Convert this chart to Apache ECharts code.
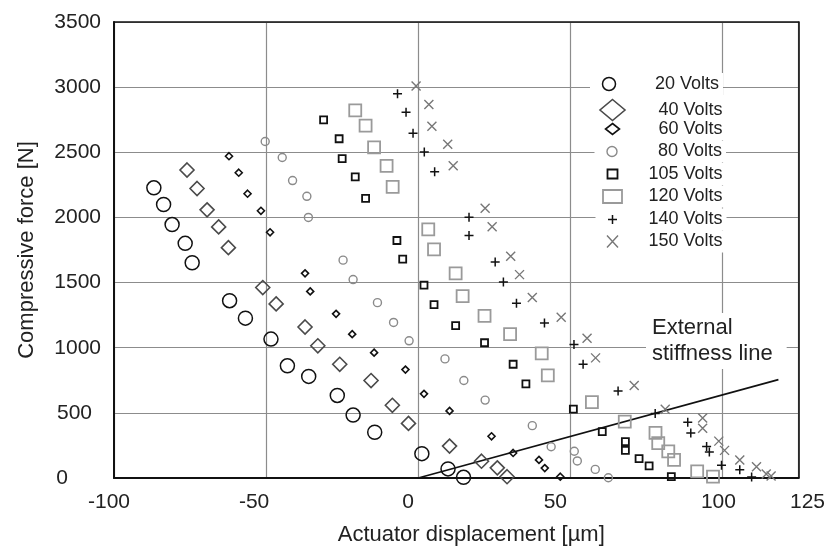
<!DOCTYPE html>
<html>
<head>
<meta charset="utf-8">
<script src="https://cdn.jsdelivr.net/npm/echarts@6/dist/echarts.min.js"></script>
<style>
html,body{margin:0;padding:0;background:#fff;}
#chart{width:828px;height:551px;}
</style>
</head>
<body>
<div id="chart"></div>
<script>
// ---- data ----
const xTicks = [-100, -50, 0, 50, 100, 125];
const yTicks = [0, 500, 1000, 1500, 2000, 2500, 3000, 3500];

const v20x = [-86.9,-83.7,-80.9,-76.6,-74.3,-62.0,-56.8,-48.4,-43.0,-36.0,-26.6,-21.4,-14.3,1.2,9.8,14.9];
const v20y = [2227,2099,1945,1801,1652,1361,1227,1066,861,780,634,483,351,187,70,5];

const v40x = [-76.0,-72.7,-69.4,-65.6,-62.4,-51.1,-46.7,-37.2,-33.0,-25.8,-15.5,-8.5,-3.2,10.3,20.8,26.0,29.2];
const v40y = [2364,2222,2058,1927,1768,1462,1336,1159,1015,873,748,558,419,245,129,78,10];

const v60x = [-62.2,-59.0,-56.1,-51.7,-48.7,-37.2,-35.5,-27.0,-21.7,-14.5,-4.2,1.9,10.3,24.1,31.2,39.7,41.6,46.7];
const v60y = [2470,2343,2182,2051,1886,1571,1432,1260,1104,962,832,646,515,320,192,139,76,10];

const v80x = [-50.3,-44.7,-41.3,-36.6,-36.1,-24.7,-21.4,-13.4,-8.1,-3.0,8.8,15.0,22.0,37.5,43.7,51.3,52.3,58.2,62.5];
const v80y = [2583,2460,2283,2162,2000,1672,1523,1346,1194,1053,914,748,598,402,240,205,131,66,2];

const v105x = [-31.1,-26.0,-25.0,-20.7,-17.3,-7.0,-5.1,1.9,5.2,12.3,21.8,31.2,35.4,51.0,60.5,68.1,68.1,72.6,75.9,83.2];
const v105y = [2748,2604,2452,2311,2146,1823,1680,1480,1331,1169,1038,873,722,528,356,279,212,149,93,10];

const v120x = [-20.7,-17.3,-14.5,-10.4,-8.4,3.3,5.2,12.3,14.6,21.8,30.2,40.6,42.6,57.1,67.9,78.0,78.9,82.2,84.1,91.7,96.9];
const v120y = [2821,2705,2538,2396,2235,1909,1755,1571,1396,1245,1104,957,788,583,433,346,267,205,139,51,10];

const v140x = [-6.8,-4.0,-1.7,2.0,5.4,16.7,16.7,25.3,28.0,32.3,41.5,51.2,54.2,65.7,77.9,88.6,89.6,94.8,95.7,99.7,105.7,109.6];
const v140y = [2949,2808,2646,2502,2351,2002,1861,1657,1505,1341,1189,1025,873,667,495,427,346,242,199,98,63,8];

const v150x = [-0.7,3.5,4.5,9.7,11.5,22.0,24.3,30.4,33.3,37.5,47.0,55.5,58.3,71.0,81.2,93.5,93.5,98.8,100.7,105.7,111.2,114.4,116.0];
const v150y = [3008,2866,2699,2561,2396,2071,1929,1702,1561,1386,1233,1073,922,710,528,460,381,283,212,139,86,30,15];

const stiffX = [0, 118.4];
const stiffY = [0, 755];

const seriesNames = ['20 Volts','40 Volts','60 Volts','80 Volts','105 Volts','120 Volts','140 Volts','150 Volts'];
const annotationText = 'External\nstiffness line';
const xTitle = 'Actuator displacement [\u00b5m]';
const yTitle = 'Compressive force [N]';

// ---- styles ----
const FONT = '"Liberation Sans", Arial, Helvetica, sans-serif';
const TXT = '#222';
const PLUS = 'path://M0,5L10,5M5,0L5,10';
const CROSS = 'path://M0,0L10,10M10,0L0,10';

const styles = [
  {sym:'circle',  size:14, color:'#111', bw:1.5, lw:20, lh:13},
  {sym:'diamond', size:14, color:'#4a4a4a', bw:1.6, lw:25, lh:21},
  {sym:'diamond', size:7,  color:'#111', bw:1.6, lw:14, lh:11},
  {sym:'circle',  size:8,  color:'#8a8a8a', bw:1.4, lw:11, lh:10},
  {sym:'rect',    size:7,  color:'#111', bw:1.8, lw:10, lh:9},
  {sym:'rect',    size:12, color:'#9a9a9a', bw:1.8, lw:19, lh:13},
  {sym:PLUS,      size:9,  color:'#111', bw:1.5, lw:9,  lh:9},
  {sym:CROSS,     size:9,  color:'#777', bw:1.4, lw:11, lh:12}
];
const rowCenters = [85,107.5,130,152.5,175,197.5,220.5,242.5];

const xs = [v20x,v40x,v60x,v80x,v105x,v120x,v140x,v150x];
const ys = [v20y,v40y,v60y,v80y,v105y,v120y,v140y,v150y];

function zip(a,b){ return a.map((v,i)=>[v,b[i]]); }

const series = seriesNames.map((name,i)=>({
  name: name,
  type: 'scatter',
  xAxisIndex: 0, yAxisIndex: 0,
  symbol: styles[i].sym,
  symbolSize: styles[i].size,
  symbolKeepAspect: false,
  itemStyle: {color:'none', borderColor: styles[i].color, borderWidth: styles[i].bw, opacity:1},
  emphasis: {disabled:true},
  clip: false,
  z: 5,
  data: zip(xs[i], ys[i])
}));
series.push({
  type:'line', name:'stiffness', xAxisIndex:0, yAxisIndex:0,
  data: zip(stiffX, stiffY), symbol:'none', silent:true,
  lineStyle:{color:'#111', width:1.6}, z:4
});

const ICON_CX = 610, TEXT_RIGHT = 720, PADL = 10;
const legends = seriesNames.map((name,i)=>{
  const s = styles[i];
  const textW = TEXT_RIGHT - (ICON_CX + s.lw/2 + 5);
  const h = Math.max(20, s.lh);
  return {
    data:[{name:name, icon: s.sym}],
    orient:'vertical',
    left: ICON_CX - s.lw/2 - PADL,
    top: rowCenters[i] - h/2 - 2,
    itemWidth: s.lw, itemHeight: s.lh,
    symbolKeepAspect: false,
    selectedMode:false,
    backgroundColor:'#fff',
    padding:[2,4,2,PADL],
    itemStyle:{color:'none', borderColor:s.color, borderWidth:s.bw},
    formatter: n => '{t|' + n + '}',
    textStyle:{fontFamily:FONT, color:TXT, fontSize:18,
      rich:{t:{width:textW, align:'right', fontSize:18, fontFamily:FONT, color:TXT, lineHeight:20}}}
  };
});

// label nudges (the reference's labels are not exactly centred on ticks)
const xLabelShift = {'-100':-5, '-50':-12, '0':-10, '50':-15, '100':-4, '125':9};
const yLabelPad = {'0':33, '500':9};

const option = {
  animation:false,
  backgroundColor:'#fff',
  textStyle:{fontFamily:FONT},
  title:{
    text: annotationText,
    left: 646, top: 313,
    backgroundColor:'#fff',
    padding:[2,14,2,6],
    textStyle:{fontFamily:FONT, fontSize:22, fontWeight:'normal', color:TXT, lineHeight:26}
  },
  legend: legends,
  grid:{left:114, right:27, top:22, bottom:67, containLabel:false},
  xAxis:[{
    type:'value', min:xTicks[0], max:xTicks[xTicks.length-1], interval:50,
    position:'bottom',
    name:xTitle, nameLocation:'middle', nameGap:46,
    nameTextStyle:{fontFamily:FONT, fontSize:22, color:TXT, padding:[0,0,0,30]},
    axisLine:{show:true, onZero:false, lineStyle:{color:'#111', width:2}},
    axisTick:{show:false},
    splitLine:{show:true, lineStyle:{color:'#8c8c8c', width:1.2}},
    axisLabel:{
      customValues: xTicks,
      margin:14, fontFamily:FONT, fontSize:21, color:TXT,
      formatter: v => {
        const s = xLabelShift[String(v)] || 0;
        return s < 0 ? '{l|' + v + '}' + '{g' + (-s) + '|}' : '{g' + s + '|}' + '{l|' + v + '}';
      },
      rich: (function(){
        const r = {l:{fontSize:21, fontFamily:FONT, color:TXT}};
        [4,5,9,10,12,15].forEach(k=>{ r['g'+k] = {width:2*k, height:1}; });
        return r;
      })()
    }
  },{
    type:'value', min:xTicks[0], max:xTicks[xTicks.length-1], position:'top',
    axisLine:{show:true, onZero:false, lineStyle:{color:'#111', width:1.6}},
    axisTick:{show:false}, axisLabel:{show:false}, splitLine:{show:false}
  }],
  yAxis:[{
    type:'value', min:yTicks[0], max:yTicks[yTicks.length-1], interval:500,
    position:'left',
    name:yTitle, nameLocation:'middle', nameGap:76,
    nameTextStyle:{fontFamily:FONT, fontSize:22, color:TXT},
    axisLine:{show:true, onZero:false, lineStyle:{color:'#111', width:2}},
    axisTick:{show:false},
    splitLine:{show:true, lineStyle:{color:'#8c8c8c', width:1.2}},
    axisLabel:{
      margin:13, fontFamily:FONT, fontSize:21, color:TXT,
      formatter: v => {
        const p = yLabelPad[String(v)];
        return p ? '{p' + p + '|' + v + '}' : '{n|' + v + '}';
      },
      rich:{
        n:{fontSize:21, fontFamily:FONT, color:TXT},
        p33:{fontSize:21, fontFamily:FONT, color:TXT, padding:[0,33,0,0]},
        p9:{fontSize:21, fontFamily:FONT, color:TXT, padding:[0,9,0,0]}
      }
    }
  },{
    type:'value', min:yTicks[0], max:yTicks[yTicks.length-1], position:'right',
    axisLine:{show:true, onZero:false, lineStyle:{color:'#111', width:1.6}},
    axisTick:{show:false}, axisLabel:{show:false}, splitLine:{show:false}
  }],
  series: series
};

const chart = echarts.init(document.getElementById('chart'), null, {renderer:'canvas'});
chart.setOption(option);
</script>
</body>
</html>
